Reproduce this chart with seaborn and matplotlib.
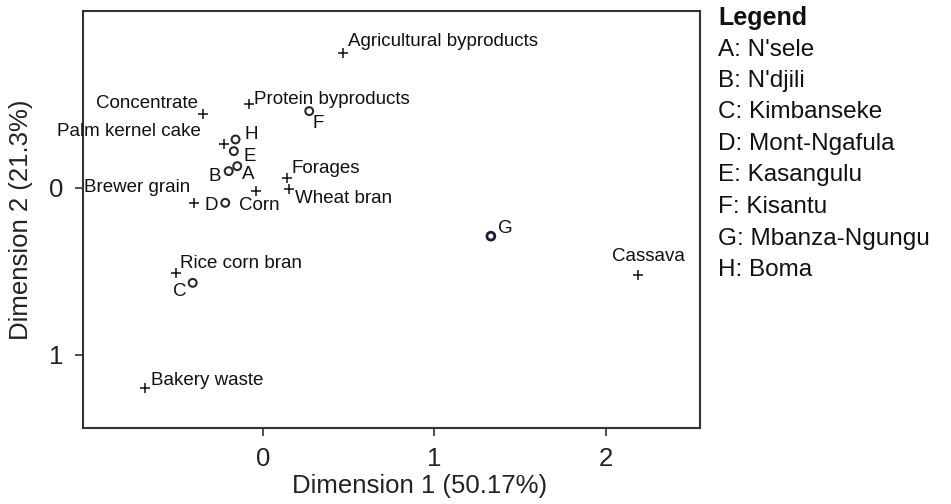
import matplotlib
matplotlib.use("Agg")
import matplotlib.pyplot as plt
import pandas as pd
import seaborn as sns

# feed ingredients (+ markers)
feed_names = [
    "Agricultural byproducts", "Concentrate", "Protein byproducts",
    "Palm kernel cake", "Forages", "Wheat bran", "Corn", "Brewer grain",
    "Rice corn bran", "Cassava", "Bakery waste",
]
feed_dim1 = [0.47, -0.35, -0.08, -0.23, 0.14, 0.15, -0.04, -0.40, -0.51, 2.19, -0.69]
feed_dim2 = [-0.81, -0.44, -0.50, -0.26, -0.06, 0.01, 0.02, 0.09, 0.51, 0.52, 1.20]

# markets (o markers)
market_codes = ["A", "B", "C", "D", "E", "F", "G", "H"]
market_names = ["N'sele", "N'djili", "Kimbanseke", "Mont-Ngafula",
                "Kasangulu", "Kisantu", "Mbanza-Ngungu", "Boma"]
market_dim1 = [-0.15, -0.20, -0.41, -0.22, -0.17, 0.27, 1.33, -0.16]
market_dim2 = [-0.13, -0.10, 0.57, 0.09, -0.22, -0.46, 0.29, -0.29]

x_ticks = [0, 1, 2]
y_ticks = [0, 1]

# label placement (offset in pixels, horizontal alignment)
feed_offsets = {
    "Agricultural byproducts": (5, 11, "left"),
    "Concentrate": (-5, 11, "right"),
    "Protein byproducts": (5, 5, "left"),
    "Palm kernel cake": (-23, 13, "right"),
    "Forages": (5, 9, "left"),
    "Wheat bran": (6, -9, "left"),
    "Corn": (3, -14, "center"),
    "Brewer grain": (-4, 15, "right"),
    "Rice corn bran": (4, 9, "left"),
    "Cassava": (10, 18, "center"),
    "Bakery waste": (6, 7, "left"),
}
market_offsets = {
    "A": (11, -8), "B": (-14, -5), "C": (-13, -9), "D": (-14, -3),
    "E": (16, -5), "F": (9, -12), "G": (14, 8), "H": (16, 5),
}

feeds = pd.DataFrame({"name": feed_names, "d1": feed_dim1, "d2": feed_dim2})
markets = pd.DataFrame({"code": market_codes, "d1": market_dim1, "d2": market_dim2})

sns.set_style("white")
plt.rcParams["font.family"] = ["Liberation Sans", "DejaVu Sans"]

fig = plt.figure(figsize=(9.51, 5.04), dpi=100)
ax = fig.add_axes([0.0873, 0.151, 0.6487, 0.827])

sns.scatterplot(data=feeds, x="d1", y="d2", marker="+", color="#111111",
                s=50, linewidth=1.1, ax=ax)
# G is drawn with a darker navy ring in the original
edge = ["#1c1c3a" if c == "G" else "#2a2a2a" for c in market_codes]
width = [2.0 if c == "G" else 1.5 for c in market_codes]
sns.scatterplot(data=markets, x="d1", y="d2", marker="o", s=32,
                facecolor="white", edgecolor=edge, linewidth=width, ax=ax)

label_size = 13.5
for _, r in feeds.iterrows():
    dx, dy, ha = feed_offsets[r["name"]]
    ax.annotate(r["name"], (r["d1"], r["d2"]), xytext=(dx, dy),
                textcoords="offset pixels", ha=ha, va="center",
                fontsize=label_size, color="#111111")
for _, r in markets.iterrows():
    dx, dy = market_offsets[r["code"]]
    ax.annotate(r["code"], (r["d1"], r["d2"]), xytext=(dx, dy),
                textcoords="offset pixels", ha="center", va="center",
                fontsize=label_size, color="#111111")

ax.set_xlim(-1.05, 2.55)
ax.set_ylim(1.44, -1.06)
ax.set_xticks(x_ticks)
ax.set_yticks(y_ticks)
ax.tick_params(axis="both", which="major", direction="out", length=6,
               width=1.2, color="#333333", labelsize=18.5, labelcolor="#222222",
               left=True, bottom=True, pad=8)
for sp in ax.spines.values():
    sp.set_color("#333333")
    sp.set_linewidth(1.5)

ax.set_xlabel("Dimension 1 (50.17%)", fontsize=18.5, color="#222222")
ax.xaxis.set_label_coords(0.546, -0.11)
ax.set_ylabel("Dimension 2 (21.3%)", fontsize=18.5, color="#222222", labelpad=12)

# legend block as text
legend_x = 718 / 951
top_y = 1 - 18 / 504
step = 31.5 / 504
fig.text(legend_x, top_y, "Legend", fontsize=18, fontweight="bold",
         va="center", ha="left", color="#111111")
for i, (c, n) in enumerate(zip(market_codes, market_names)):
    fig.text(legend_x, top_y - step * (i + 1), f"{c}: {n}", fontsize=17.5,
             va="center", ha="left", color="#111111")

fig.savefig("out.png", dpi=100)
